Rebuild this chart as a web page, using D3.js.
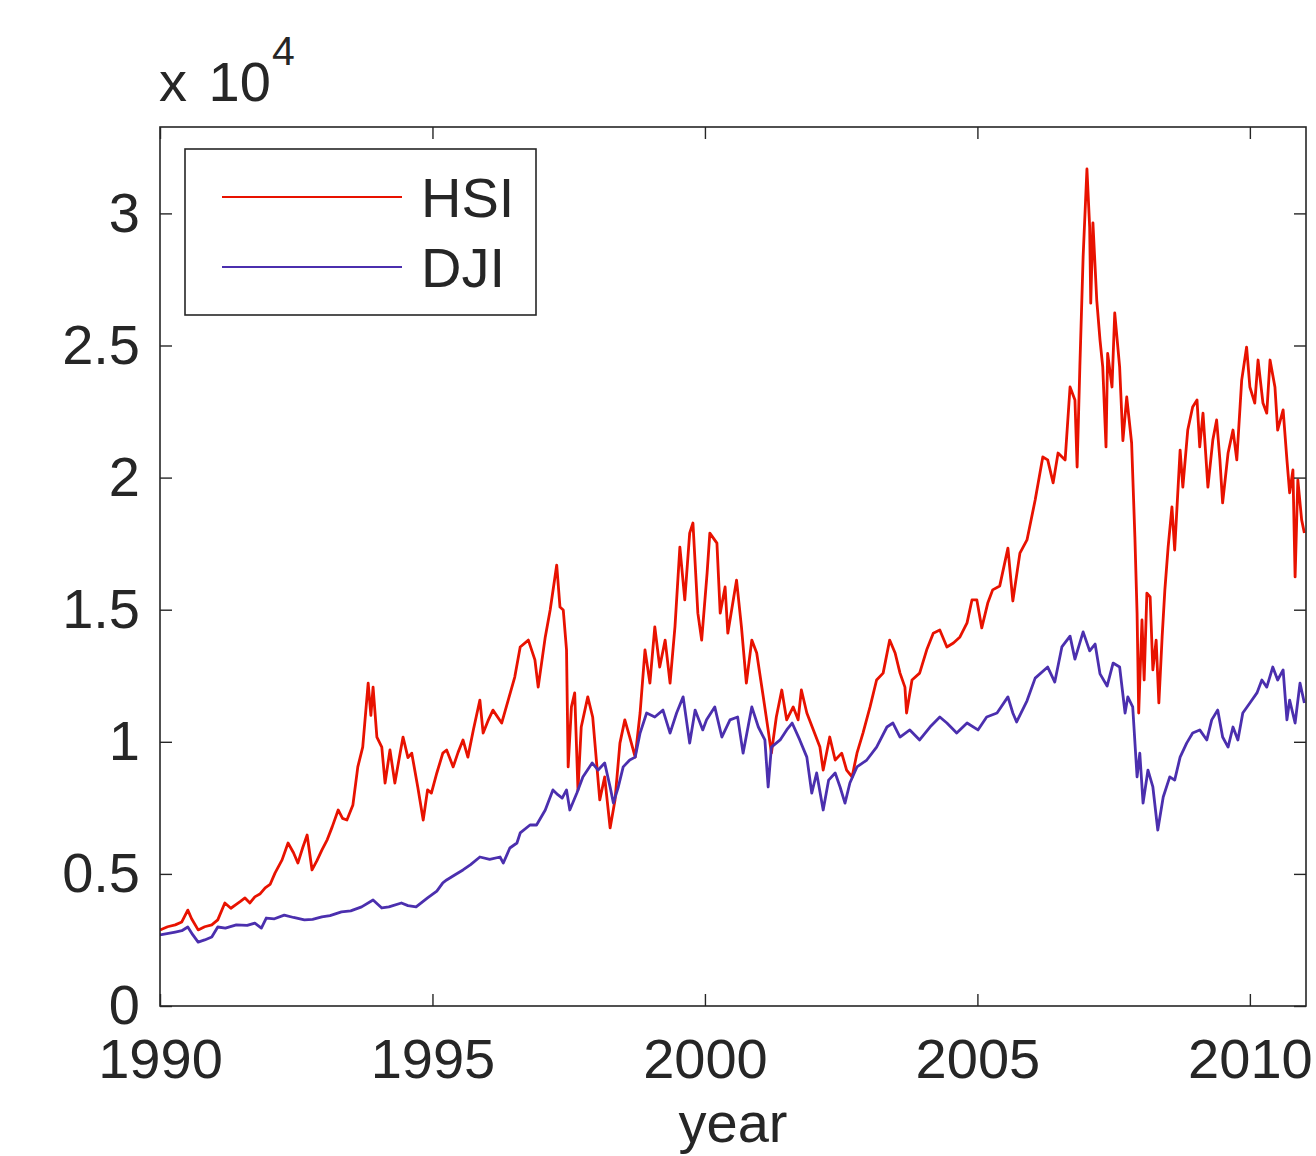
<!DOCTYPE html>
<html>
<head>
<meta charset="utf-8">
<script src="https://cdn.jsdelivr.net/npm/d3@7"></script>
<style>
  body { margin: 0; background: #fff; }
  text { font-family: "Liberation Sans", Arial, Helvetica, sans-serif; fill: #262626; }
</style>
</head>
<body>
<svg class="theSvg" width="1316" height="1156"></svg>
<script>
// index levels, [year, value]
var hsi = [
  [1990.00,2880],[1990.14,3000],[1990.28,3070],[1990.40,3180],[1990.51,3630],[1990.58,3300],
  [1990.70,2880],[1990.82,3000],[1990.95,3070],[1991.06,3260],[1991.19,3900],[1991.30,3700],
  [1991.38,3820],[1991.47,3950],[1991.56,4090],[1991.65,3900],[1991.74,4130],[1991.84,4250],
  [1991.93,4470],[1992.02,4600],[1992.11,5030],[1992.24,5530],[1992.35,6170],[1992.45,5800],
  [1992.53,5410],[1992.62,6000],[1992.70,6470],[1992.79,5150],[1992.88,5500],[1992.97,5900],
  [1993.07,6300],[1993.16,6780],[1993.27,7420],[1993.35,7100],[1993.43,7040],[1993.54,7610],
  [1993.63,9050],[1993.72,9800],[1993.82,12220],[1993.87,11000],[1993.91,12070],[1993.98,10180],
  [1994.07,9800],[1994.13,8440],[1994.22,9690],[1994.31,8440],[1994.40,9500],[1994.46,10180],
  [1994.55,9400],[1994.62,9570],[1994.73,8290],[1994.83,7040],[1994.91,8180],[1994.98,8060],
  [1995.08,8820],[1995.19,9570],[1995.26,9690],[1995.38,9050],[1995.47,9600],[1995.56,10070],
  [1995.65,9420],[1995.75,10450],[1995.87,11580],[1995.93,10330],[1996.02,10800],[1996.11,11200],
  [1996.27,10710],[1996.39,11580],[1996.51,12450],[1996.61,13590],[1996.76,13850],[1996.88,13100],
  [1996.94,12070],[1997.07,13970],[1997.16,14990],[1997.28,16690],[1997.34,15100],[1997.40,14990],
  [1997.46,13480],[1997.49,9050],[1997.55,11320],[1997.61,11850],[1997.67,8180],[1997.73,10560],
  [1997.85,11700],[1997.94,10940],[1998.07,7800],[1998.16,8670],[1998.26,6740],[1998.35,7800],
  [1998.44,9950],[1998.53,10830],[1998.62,10180],[1998.72,9420],[1998.81,11090],[1998.90,13480],
  [1998.99,12220],[1999.08,14350],[1999.17,12830],[1999.27,13850],[1999.36,12220],[1999.45,14350],
  [1999.54,17370],[1999.63,15370],[1999.72,17900],[1999.78,18280],[1999.87,14870],[1999.94,13850],
  [2000.04,16390],[2000.09,17900],[2000.22,17520],[2000.28,14870],[2000.37,15860],[2000.42,14110],
  [2000.52,15370],[2000.58,16120],[2000.67,14350],[2000.76,12220],[2000.86,13850],[2000.95,13360],
  [2001.06,11850],[2001.16,10450],[2001.22,9570],[2001.31,10940],[2001.41,11960],[2001.50,10830],
  [2001.62,11320],[2001.71,10830],[2001.77,11960],[2001.87,11090],[2001.99,10450],[2002.11,9800],
  [2002.17,8930],[2002.29,10180],[2002.39,9310],[2002.51,9570],[2002.60,8930],[2002.70,8670],
  [2002.79,9570],[2002.90,10330],[2003.03,11320],[2003.15,12340],[2003.27,12600],[2003.39,13850],
  [2003.49,13360],[2003.58,12600],[2003.67,12070],[2003.70,11090],[2003.80,12340],[2003.94,12600],
  [2004.07,13480],[2004.19,14110],[2004.31,14230],[2004.44,13590],[2004.56,13740],[2004.68,13970],
  [2004.81,14500],[2004.90,15370],[2004.99,15370],[2005.08,14310],[2005.19,15250],[2005.28,15750],
  [2005.41,15900],[2005.56,17330],[2005.65,15330],[2005.78,17140],[2005.91,17640],[2006.06,19150],
  [2006.20,20780],[2006.29,20670],[2006.39,19800],[2006.48,20930],[2006.61,20670],[2006.70,23430],
  [2006.79,22940],[2006.83,20400],[2006.88,24190],[2006.94,28350],[2007.01,31680],[2007.06,29480],
  [2007.08,26600],[2007.12,29640],[2007.19,26720],[2007.25,25200],[2007.30,24190],[2007.36,21160],
  [2007.39,24700],[2007.47,23430],[2007.52,26230],[2007.61,24190],[2007.67,21400],[2007.74,23050],
  [2007.83,21310],[2007.89,17750],[2007.93,14870],[2007.96,11090],[2008.02,14610],[2008.06,12340],
  [2008.11,15630],[2008.17,15480],[2008.22,12720],[2008.28,13850],[2008.33,11470],[2008.39,13970],
  [2008.44,15750],[2008.50,17370],[2008.57,18890],[2008.62,17260],[2008.72,21040],[2008.77,19640],
  [2008.86,21800],[2008.95,22670],[2009.03,22940],[2009.08,21160],[2009.14,22440],[2009.23,19640],
  [2009.32,21420],[2009.39,22180],[2009.45,20670],[2009.50,19040],[2009.60,20930],[2009.69,21800],
  [2009.76,20670],[2009.85,23690],[2009.94,24940],[2010.00,23430],[2010.09,22820],[2010.15,24450],
  [2010.24,22820],[2010.31,22440],[2010.37,24450],[2010.46,23430],[2010.51,21800],[2010.61,22560],
  [2010.68,20670],[2010.73,19420],[2010.79,20290],[2010.83,16240],[2010.88,19910],[2010.95,18400],
  [2011.00,17900]
];

var dji = [
  [1990.00,2690],[1990.28,2800],[1990.40,2850],[1990.51,2990],[1990.60,2700],[1990.70,2420],
  [1990.82,2500],[1990.95,2610],[1991.06,2990],[1991.20,2950],[1991.40,3070],[1991.60,3050],
  [1991.74,3140],[1991.86,2950],[1991.95,3330],[1992.10,3300],[1992.28,3440],[1992.45,3350],
  [1992.65,3260],[1992.80,3280],[1992.97,3370],[1993.12,3420],[1993.33,3560],[1993.50,3600],
  [1993.70,3750],[1993.91,4010],[1994.07,3710],[1994.20,3750],[1994.43,3900],[1994.55,3800],
  [1994.70,3750],[1994.91,4090],[1995.08,4350],[1995.19,4660],[1995.26,4770],[1995.40,4950],
  [1995.56,5150],[1995.70,5350],[1995.87,5640],[1996.05,5550],[1996.24,5640],[1996.30,5410],
  [1996.42,5980],[1996.55,6170],[1996.61,6550],[1996.79,6850],[1996.91,6850],[1997.07,7420],
  [1997.21,8180],[1997.30,8000],[1997.38,7870],[1997.46,8180],[1997.52,7420],[1997.65,8060],
  [1997.76,8670],[1997.93,9200],[1998.04,8930],[1998.16,9200],[1998.26,8290],[1998.32,7680],
  [1998.41,8290],[1998.50,9050],[1998.62,9310],[1998.72,9420],[1998.81,10330],[1998.93,11090],
  [1999.08,10940],[1999.23,11200],[1999.36,10330],[1999.48,11090],[1999.60,11700],[1999.72,9950],
  [1999.82,11200],[1999.96,10450],[2000.03,10830],[2000.18,11320],[2000.31,10180],[2000.46,10830],
  [2000.60,10940],[2000.70,9570],[2000.86,11320],[2000.98,10560],[2001.10,10070],[2001.16,8290],
  [2001.22,9800],[2001.38,10070],[2001.50,10450],[2001.60,10710],[2001.74,10070],[2001.87,9420],
  [2001.96,8060],[2002.05,8820],[2002.17,7420],[2002.27,8550],[2002.39,8820],[2002.48,8290],
  [2002.57,7680],[2002.66,8440],[2002.79,9050],[2002.97,9310],[2003.15,9800],[2003.34,10560],
  [2003.45,10710],[2003.58,10180],[2003.76,10450],[2003.94,10070],[2004.13,10560],[2004.31,10940],
  [2004.44,10710],[2004.62,10330],[2004.81,10710],[2005.01,10450],[2005.17,10940],[2005.36,11090],
  [2005.56,11700],[2005.65,11090],[2005.72,10750],[2005.91,11550],[2006.06,12410],[2006.29,12830],
  [2006.42,12260],[2006.55,13590],[2006.70,14000],[2006.79,13130],[2006.94,14160],[2007.06,13440],
  [2007.16,13700],[2007.25,12570],[2007.38,12110],[2007.49,12980],[2007.61,12830],[2007.71,11090],
  [2007.76,11700],[2007.85,11320],[2007.93,8670],[2007.98,9570],[2008.04,7680],[2008.13,8930],
  [2008.22,8290],[2008.31,6660],[2008.41,7910],[2008.53,8670],[2008.62,8550],[2008.72,9420],
  [2008.84,9950],[2008.95,10330],[2009.08,10450],[2009.21,10070],[2009.30,10830],[2009.41,11200],
  [2009.50,10180],[2009.60,9800],[2009.69,10560],[2009.78,10070],[2009.87,11090],[2010.00,11470],
  [2010.13,11850],[2010.22,12340],[2010.31,12070],[2010.42,12830],[2010.51,12340],[2010.61,12720],
  [2010.68,10830],[2010.73,11580],[2010.83,10710],[2010.92,12220],[2011.00,11470]
];

var seriesNames = ["HSI", "DJI"];
var seriesColors = ["#e81200", "#4b2fae"];
var xTicks = [1990, 1995, 2000, 2005, 2010];
var yTicks = [0, 5000, 10000, 15000, 20000, 25000, 30000];

var margins = {"left": 160, "top": 127, "right": 10, "bottom": 150};
var plotW = 1306 - margins.left;
var plotH = 1006 - margins.top;
var tickLen = 12;

var x = d3.scaleLinear().domain([1990, 2011.03]).range([0, plotW]);
var y = d3.scaleLinear().domain([0, 33270]).range([plotH, 0]);

var svg = d3.select(".theSvg");
var g = svg.append("g")
	.attr("transform", "translate(" + margins.left + "," + margins.top + ")");

g.append("clipPath").attr("id", "plotClip")
	.append("rect").attr("width", plotW).attr("height", plotH);

var line = d3.line()
	.x(function(d){ return x(d[0]); })
	.y(function(d){ return y(d[1]); });

g.selectAll(".series")
	.data([hsi, dji])
	.enter()
	.append("path")
	.attr("class", "series")
	.attr("clip-path", "url(#plotClip)")
	.attr("d", line)
	.attr("fill", "none")
	.attr("stroke", function(d, i){ return seriesColors[i]; })
	.attr("stroke-width", 2.8)
	.attr("stroke-linejoin", "round");

// axes, ticks pointing inwards like matlab
function styleAxis(sel){
	sel.select(".domain").remove();
	sel.selectAll(".tick line").attr("stroke", "#262626").attr("stroke-width", 1.4);
	sel.selectAll(".tick text")
		.attr("font-size", "56px")
		.attr("font-family", "'Liberation Sans', Arial, Helvetica, sans-serif")
		.attr("fill", "#262626");
}

g.append("g")
	.attr("transform", "translate(0," + plotH + ")")
	.call(d3.axisBottom(x).tickValues(xTicks).tickSize(-tickLen).tickPadding(32).tickFormat(d3.format("d")))
	.call(styleAxis);

g.append("g")
	.call(d3.axisLeft(y).tickValues(yTicks).tickSize(-tickLen).tickPadding(20)
		.tickFormat(function(d){ return String(d / 1e4); }))
	.call(styleAxis);

g.append("g")
	.call(d3.axisTop(x).tickValues(xTicks).tickSize(-tickLen).tickFormat(""))
	.call(styleAxis);

g.append("g")
	.attr("transform", "translate(" + plotW + ",0)")
	.call(d3.axisRight(y).tickValues(yTicks).tickSize(-tickLen).tickFormat(""))
	.call(styleAxis);

g.append("rect")
	.attr("width", plotW)
	.attr("height", plotH)
	.attr("fill", "none")
	.attr("stroke", "#262626")
	.attr("stroke-width", 1.6);

// exponent label
svg.append("text")
	.attr("x", 159)
	.attr("y", 101)
	.attr("font-size", "56px")
	.attr("word-spacing", "6px")
	.text("x 10");
svg.append("text")
	.attr("x", 272)
	.attr("y", 65)
	.attr("font-size", "41px")
	.text("4");

svg.append("text")
	.attr("x", margins.left + plotW / 2)
	.attr("y", 1142)
	.attr("text-anchor", "middle")
	.attr("font-size", "56px")
	.text("year");

// legend
var legend = svg.append("g").attr("transform", "translate(185,149)");
legend.append("rect")
	.attr("width", 351)
	.attr("height", 166)
	.attr("fill", "#fff")
	.attr("stroke", "#262626")
	.attr("stroke-width", 1.6);

var items = legend.selectAll(".legItem")
	.data(seriesNames)
	.enter()
	.append("g")
	.attr("class", "legItem")
	.attr("transform", function(d, i){ return "translate(0," + (48 + i * 70) + ")"; });

items.append("line")
	.attr("x1", 37).attr("x2", 217)
	.attr("y1", 0).attr("y2", 0)
	.attr("stroke", function(d, i){ return seriesColors[i]; })
	.attr("stroke-width", 2);

items.append("text")
	.attr("x", 236)
	.attr("y", 20)
	.attr("font-size", "56px")
	.text(function(d){ return d; });
</script>
</body>
</html>
